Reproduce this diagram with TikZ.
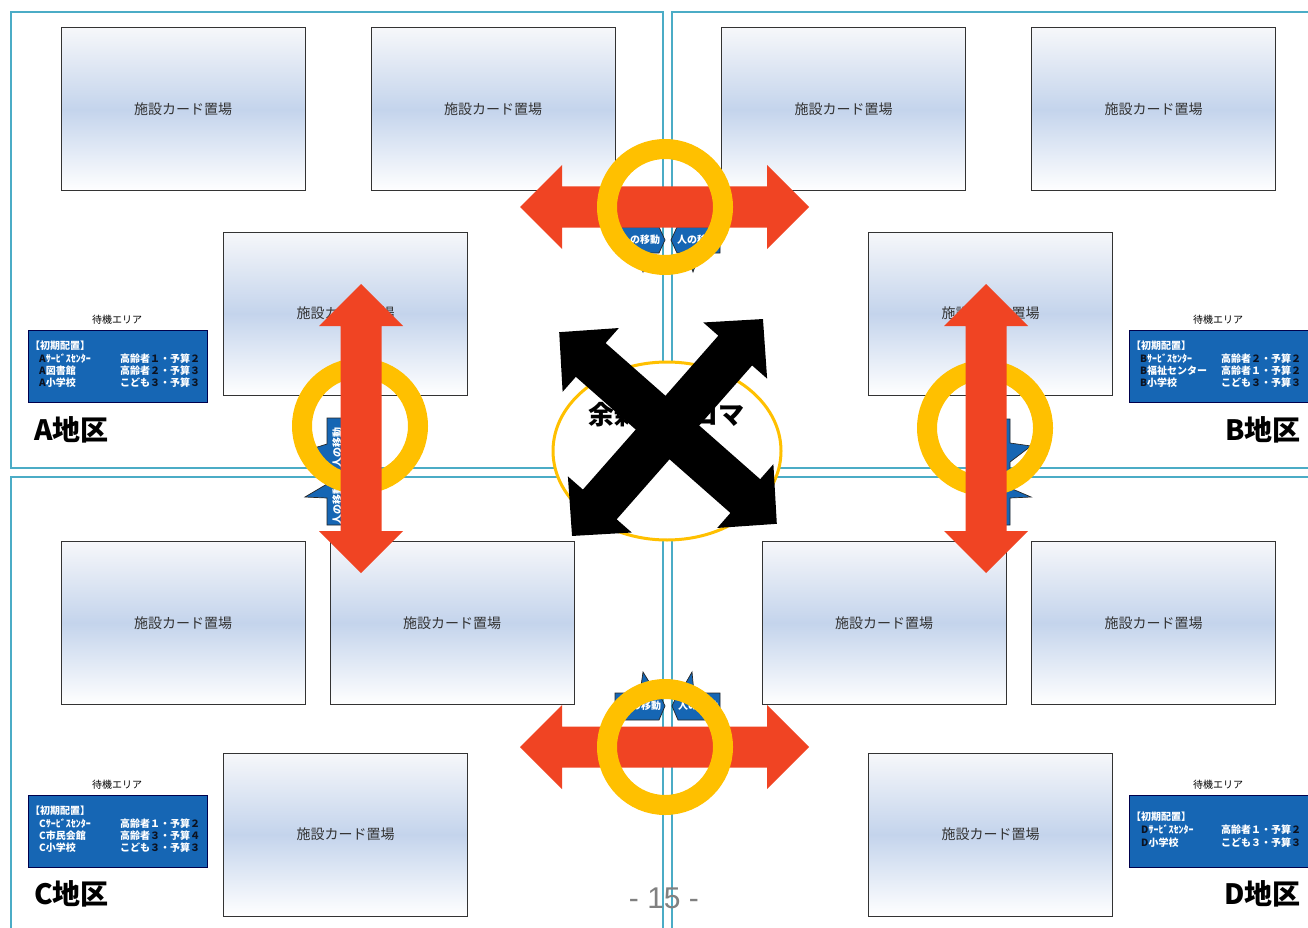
\documentclass[tikz,border=0pt]{standalone}
\usepackage{fontspec}
\usetikzlibrary{shapes.geometric}
\newfontfamily\jp{Noto Sans CJK JP}
\newfontfamily\lib{Liberation Sans}
\definecolor{teal1}{RGB}{75,172,198}
\definecolor{cardtop}{RGB}{246,247,250}
\definecolor{cardmid}{RGB}{196,212,236}
\definecolor{cardbot}{RGB}{255,255,255}
\definecolor{infob}{RGB}{22,102,180}
\definecolor{redarr}{RGB}{240,68,35}
\definecolor{gold}{RGB}{255,192,0}
\definecolor{dig}{RGB}{12,18,32}
\definecolor{pgray}{RGB}{128,128,128}
\newcommand{\blockarr}[8]{%
\fill[#1, shift={(#2,#3)}, rotate=#4]
 (-#5,0) -- ({-#5+#8},#7) -- ({-#5+#8},#6) -- ({#5-#8},#6) -- ({#5-#8},#7) -- (#5,0)
 -- ({#5-#8},-#7) -- ({#5-#8},-#6) -- ({-#5+#8},-#6) -- ({-#5+#8},-#7) -- cycle;}
\begin{document}
\begin{tikzpicture}[x=1pt,y=-1pt,
  frame/.style={draw=teal1, line width=2.7pt},
  card/.style={draw=black!80, line width=1pt, top color=cardtop, bottom color=cardbot, middle color=cardmid,
    minimum width=244pt, minimum height=163pt, inner sep=0pt, font=\jp\fontsize{14}{16}\selectfont, text=black!80},
  info/.style={draw=black!70!blue, fill=infob, line width=0.8pt},
  waitlbl/.style={font=\jp\fontsize{10}{12}\selectfont, inner sep=0pt},
  row/.style={anchor=west, inner sep=0pt, font=\jp\bfseries\fontsize{10}{12}\selectfont, text=white},
  district/.style={font=\jp\bfseries\fontsize{28}{30}\selectfont, inner sep=0pt},
  callout/.style={fill=infob, draw=black!85, line width=0.7pt},
  calltext/.style={text=white, font=\jp\bfseries\fontsize{10}{12}\selectfont, inner sep=0pt},
  ring/.style={draw=gold, line width=20pt}]
\useasboundingbox (0,0) rectangle (1308,928);
\fill[white] (0,0) rectangle (1308,928);
% frames
\draw[frame] (11,12) rectangle (663,468);
\draw[frame] (672,12) rectangle (1330,468);
\draw[frame] (11,477) rectangle (663,950);
\draw[frame] (672,477) rectangle (1330,950);
% cards
\node[card] (ca1) at (183,109.5) {施設カード置場};
\node[card] (ca2) at (493,109.5) {施設カード置場};
\node[card] (ca3) at (345.5,313.5) {施設カード置場};
\node[card] (cb1) at (843.5,109.5) {施設カード置場};
\node[card] (cb2) at (1153.5,109.5) {施設カード置場};
\node[card] (cb3) at (990.5,313.5) {施設カード置場};
\node[card] (cc1) at (183,623) {施設カード置場};
\node[card] (cc2) at (452,623) {施設カード置場};
\node[card] (cc3) at (345.5,834.5) {施設カード置場};
\node[card] (cd1) at (884,623) {施設カード置場};
\node[card] (cd2) at (1153.5,623) {施設カード置場};
\node[card] (cd3) at (990.5,834.5) {施設カード置場};
% info boxes
\draw[info] (28,330) rectangle (207,402);
\draw[info] (1129,330) rectangle (1320,402);
\draw[info] (28,795) rectangle (207,867);
\draw[info] (1129,795) rectangle (1320,867);
\node[waitlbl] (wa) at (117,320) {待機エリア};
\node[waitlbl] (wb) at (1218,320) {待機エリア};
\node[waitlbl] (wc) at (117,785) {待機エリア};
\node[waitlbl] (wd) at (1218,785) {待機エリア};
% A
\node[row] (a0) at (30,346) {【初期配置】};
\node[row] (a1) at (39,359) {\textcolor{dig}{A}ｻｰﾋﾞｽｾﾝﾀｰ};
\node[row] (a2) at (39,371) {\textcolor{dig}{A}図書館};
\node[row] (a3) at (39,383) {\textcolor{dig}{A}小学校};
\node[row] (a4) at (120,359) {高齢者\textcolor{dig}{１}・予算\textcolor{dig}{２}};
\node[row] (a5) at (120,371) {高齢者\textcolor{dig}{２}・予算\textcolor{dig}{３}};
\node[row] (a6) at (120,383) {こども\textcolor{dig}{３}・予算\textcolor{dig}{３}};
% B
\node[row] (b0) at (1131,346) {【初期配置】};
\node[row] (b1) at (1140,359) {\textcolor{dig}{B}ｻｰﾋﾞｽｾﾝﾀｰ};
\node[row] (b2) at (1140,371) {\textcolor{dig}{B}福祉センター};
\node[row] (b3) at (1140,383) {\textcolor{dig}{B}小学校};
\node[row] (b4) at (1221,359) {高齢者\textcolor{dig}{２}・予算\textcolor{dig}{２}};
\node[row] (b5) at (1221,371) {高齢者１・予算\textcolor{dig}{２}};
\node[row] (b6) at (1221,383) {こども\textcolor{dig}{３}・予算\textcolor{dig}{３}};
% C
\node[row] (c0) at (30,811) {【初期配置】};
\node[row] (c1) at (39,824) {Cｻｰﾋﾞｽｾﾝﾀｰ};
\node[row] (c2) at (39,836) {C市民会館};
\node[row] (c3) at (39,848) {C小学校};
\node[row] (c4) at (120,824) {高齢者１・予算\textcolor{dig}{２}};
\node[row] (c5) at (120,836) {高齢者\textcolor{dig}{３}・予算\textcolor{dig}{４}};
\node[row] (c6) at (120,848) {こども\textcolor{dig}{３}・予算\textcolor{dig}{３}};
% D
\node[row] (d0) at (1131,817) {【初期配置】};
\node[row] (d1) at (1141,830) {\textcolor{dig}{D}ｻｰﾋﾞｽｾﾝﾀｰ};
\node[row] (d2) at (1141,843) {\textcolor{dig}{D}小学校};
\node[row] (d4) at (1221,830) {高齢者１・予算\textcolor{dig}{２}};
\node[row] (d5) at (1221,843) {こども３・予算\textcolor{dig}{３}};
% district labels
\node[district, anchor=west] (la) at (34,430) {A地区};
\node[district, anchor=east] (lb) at (1301,430) {B地区};
\node[district, anchor=west] (lc) at (34,894) {C地区};
\node[district, anchor=east] (ld) at (1301,894) {D地区};
% page number
\node[font=\lib\fontsize{30}{34}\selectfont, text=pgray, inner sep=0pt] (pg) at (664,898) {- 15 -};
% callouts
\filldraw[callout] (616,227) -- (659,227) -- (665,240) -- (659,253) -- (650,253) -- (643,272) -- (636,253) -- (616,253) -- cycle;
\node[calltext] (t1) at (640,240) {人の移動};
\filldraw[callout] (677,227) -- (720,227) -- (720,253) -- (700,253) -- (693,272) -- (686,253) -- (677,253) -- (671,240) -- cycle;
\node[calltext] (t2) at (697,240) {人の移動};
\filldraw[callout] (615,693) -- (640,693) -- (643,672) -- (656,693) -- (659,693) -- (665,706) -- (659,720) -- (615,720) -- cycle;
\node[calltext] (t3) at (641,706) {人の移動};
\filldraw[callout] (678,693) -- (680,693) -- (692,672) -- (694,693) -- (720,693) -- (720,720) -- (678,720) -- (672,706) -- cycle;
\node[calltext] (t4) at (698,706) {人の移動};
\filldraw[callout] (327,418) -- (350,418) -- (350,476) -- (327,476) -- (327,462) -- (308,450) -- (327,444) -- cycle;
\node[calltext, rotate=90] (t5) at (337,447) {人の移動};
\filldraw[callout] (327,480) -- (350,480) -- (350,525) -- (327,525) -- (327,498) -- (305,497) -- (327,484) -- cycle;
\node[calltext, rotate=90] (t6) at (337,504) {人の移動};
\filldraw[callout] (986,419) -- (1010,419) -- (1010,443) -- (1031,446) -- (1010,462) -- (1010,476) -- (986,476) -- cycle;
\node[calltext, rotate=-90] (t7) at (998,447) {人の移動};
\filldraw[callout] (986,482) -- (1010,482) -- (1010,488) -- (1031,497) -- (1010,498) -- (1010,525) -- (986,525) -- cycle;
\node[calltext, rotate=-90] (t8) at (998,504) {人の移動};
% center ellipse
\node[ellipse, draw=gold, line width=3pt, fill=white, minimum width=228pt, minimum height=178pt, inner sep=0pt] (ell) at (667,451) {};
\node[font=\jp\bfseries\fontsize{26}{30}\selectfont, inner sep=0pt] (ctr) at (666,415) {余剰施設コマ};
% red horizontal arrows + rings on top
\blockarr{redarr}{664.5}{207}{0}{144.5}{20.5}{42}{42}
\blockarr{redarr}{664.5}{747}{0}{144.5}{20.5}{42}{42}
\draw[ring] (665,207) circle [radius=58pt];
\draw[ring] (665,747) circle [radius=58pt];
% rings under vertical arrows
\draw[ring] (360,426) circle [radius=58pt];
\draw[ring] (985,428) circle [radius=58pt];
\blockarr{redarr}{361}{428.5}{90}{144.5}{20.5}{42}{42}
\blockarr{redarr}{986}{428.5}{90}{144.5}{20.5}{42}{42}
% black X
\blockarr{black}{668}{428}{-41.37}{145}{22.5}{42.5}{42}
\blockarr{black}{667.5}{427.5}{48.65}{144.5}{22.5}{42.5}{42}
\end{tikzpicture}
\end{document}
